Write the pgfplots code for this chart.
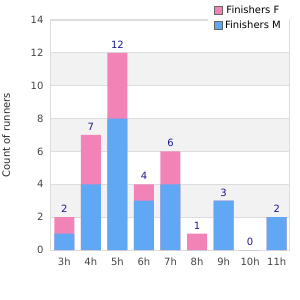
\documentclass[border=0pt]{standalone}
\usepackage{pgfplots}
\pgfplotsset{compat=1.18}
\usepackage{pgfplotstable}
\usepackage{fontspec}
\setmainfont{DejaVu Sans}
\definecolor{pinkF}{HTML}{F283B6}
\definecolor{blueM}{HTML}{60A8F4}
\definecolor{lbl}{HTML}{1A1A8C}
\definecolor{tick}{HTML}{444444}
\definecolor{band}{HTML}{F2F2F2}
\definecolor{gridc}{HTML}{DDDDDD}
% M = male finishers, T = total (M + F)
\pgfplotstableread{
x M F T
0 1 1 2
1 4 3 7
2 8 4 12
3 3 1 4
4 4 2 6
5 0 1 1
6 3 0 3
7 0 0 0
8 2 0 2
}\data
\begin{document}
\begin{tikzpicture}
\path[use as bounding box] (0pt,0pt) rectangle (300pt,300pt);
\fill[band] (51pt,82.857pt) rectangle (290pt,115.714pt);
\fill[band] (51pt,148.571pt) rectangle (290pt,181.429pt);
\fill[band] (51pt,214.286pt) rectangle (290pt,247.143pt);
\begin{axis}[
  at={(51pt,50pt)}, anchor=south west,
  scale only axis, width=239pt, height=230pt,
  ybar, bar width=20pt, bar shift=0pt,
  xmin=-0.5, xmax=8.5, ymin=0, ymax=14,
  xtick={0,...,8},
  xticklabels={3h,4h,5h,6h,7h,8h,9h,10h,11h},
  ytick={0,2,...,14},
  major tick length=0pt,
  tick label style={font=\fontsize{10}{12}\selectfont, text=tick},
  xticklabel style={yshift=-4pt},
  yticklabel style={xshift=-4pt},
  /pgf/number format/assume math mode=true,
  ymajorgrids, grid style={gridc, line width=0.8pt},
  axis line style={draw=gridc, line width=1pt},
  ylabel={Count of runners},
  ylabel style={font=\fontsize{10}{12}\selectfont, text=black!85,
    at={(axis description cs:-0.188,0.5)}, anchor=center},
  legend style={at={(1,1)}, anchor=north east, yshift=17pt, xshift=-1pt,
    draw=none, fill=white, font=\fontsize{10}{12}\selectfont, row sep=2pt,
    inner xsep=6pt, inner ysep=1pt},
  legend image code/.code={\draw[#1, draw=gray!80!black, line width=0.8pt] (-3pt,-4pt) rectangle (5pt,4pt);},
]
\addplot[fill=pinkF, draw=none,
  nodes near coords, every node near coord/.append style={font=\fontsize{10}{12}\selectfont, text=lbl, yshift=1pt}]
  table[x=x,y=T] {\data};
\addlegendentry{Finishers F}
\addplot[fill=blueM, draw=none] table[x=x,y=M] {\data};
\addlegendentry{Finishers M}
\end{axis}
\end{tikzpicture}
\end{document}
